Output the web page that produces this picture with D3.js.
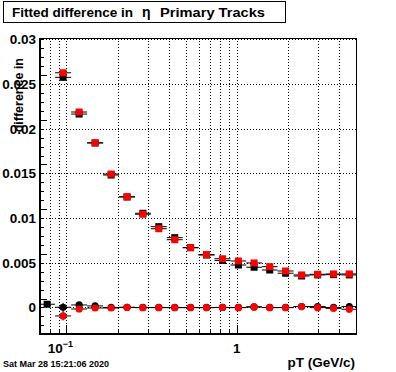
<!DOCTYPE html>
<html>
<head>
<meta charset="utf-8">
<script src="https://cdn.jsdelivr.net/npm/d3@7"></script>
<style>
  body { margin: 0; background: #fff; }
  text { font-family: "Liberation Sans", Arial, Helvetica, sans-serif; font-weight: bold; }
</style>
</head>
<body>
<script>
// pT bin edges (GeV/c)
var binEdges = [0.0692, 0.0858, 0.1066, 0.1323, 0.1642, 0.2039, 0.2525, 0.3126, 0.388, 0.4813,
                0.5957, 0.7396, 0.918, 1.136, 1.402, 1.734, 2.153, 2.673, 3.318, 4.108, 5.08];

// squares: fitted width, circles: fitted mean (black / red)
var blackSq = [0.00036, 0.02575, 0.02164, 0.0184, 0.01482, 0.01236, 0.01054, 0.00904, 0.00781, 0.00669,
               0.00587, 0.00526, 0.00475, 0.0045, 0.00419, 0.00383, 0.00352, 0.00364, 0.00367, 0.00364];
var redSq   = [null, 0.02626, 0.02187, 0.01843, 0.01493, 0.01239, 0.01043, 0.00881, 0.00758, 0.00669,
               0.00591, 0.00545, 0.0052, 0.00498, 0.00456, 0.00408, 0.00364, 0.00371, 0.00375, 0.00375];
var blackCirc = [null, 0.00002, 0.00028, 0.00017, 0.0, 0.00002, 0.0, 0.0, 0.0, 0.0,
                 0.0, 0.0, 0.0, 0.00006, 0.0, 0.0, 0.0001, 0.0001, 0.0, 0.0001];
var redCirc   = [null, -0.00095, -0.00017, -0.00006, -0.00006, 0.0, -0.00002, -0.00002, -0.00002, -0.00002,
                 -0.00002, 0.0, -0.00002, 0.00006, -0.00002, -0.00002, 0.0001, -0.00002, -0.0001, -0.0002];

var blackSqErr = [0.0002, 0.0004, 0.0003, 0.0002, 0.0002, 0.00015, 0.00015, 0.0001, 0.0001, 0.0001,
                  0.0001, 0.0001, 0.0001, 0.0001, 0.0001, 0.0001, 0.0001, 0.0001, 0.0001, 0.0001];
var redSqErr   = [0, 0.0003, 0.0002, 0.00015, 0.00015, 0.0001, 0.0001, 0.0001, 0.0001, 0.0001,
                  0.0001, 0.0001, 0.0001, 0.0001, 0.0001, 0.0001, 0.0001, 0.0001, 0.0001, 0.0001];
var blackCircErr = [0, 0.0005, 0.0002, 0.00015, 0.0001, 0.0001, 0.0001, 0.0001, 0.0001, 0.0001,
                    0.0001, 0.0001, 0.0001, 0.0001, 0.0001, 0.0001, 0.0001, 0.0001, 0.0001, 0.0001];
var redCircErr   = [0, 0.0005, 0.0002, 0.00015, 0.0001, 0.0001, 0.0001, 0.0001, 0.0001, 0.0001,
                    0.0001, 0.0001, 0.0001, 0.0001, 0.0001, 0.0001, 0.0001, 0.0001, 0.0001, 0.0001];

var yTicks = [0, 0.005, 0.01, 0.015, 0.02, 0.025, 0.03];
var yTickLabels = ["0", "0.005", "0.01", "0.015", "0.02", "0.025", "0.03"];

var titleLeft = "Fitted difference in", titleEta = "\u03b7", titleRight = "Primary Tracks";
var xTitle = "pT (GeV/c)", yTitle = "difference in";
var dateStamp = "Sat Mar 28 15:21:06 2020";

// frame
var fx0 = 40, fx1 = 356, fy0 = 38, fy1 = 334;

var svg = d3.select('body').append('svg')
  .attr('width', 396).attr('height', 372)
  .attr('xmlns', 'http://www.w3.org/2000/svg');

var x = d3.scaleLog().domain([0.07, 5]).range([fx0, fx1]);
var y = d3.scaleLinear().domain([-0.00297, 0.03015]).range([fy1, fy0]);

var px = function(v) { return Math.round(v) + 0.5; };

// grid
var xGrid = x.ticks().filter(function(t) { return t > 0.0701 && t < 4.99; });
svg.append('g').selectAll('line').data(xGrid).enter().append('line')
  .attr('x1', function(d) { return px(x(d)); }).attr('x2', function(d) { return px(x(d)); })
  .attr('y1', fy0).attr('y2', fy1)
  .attr('stroke', '#000').attr('stroke-dasharray', '1,2').attr('shape-rendering', 'crispEdges');
svg.append('g').selectAll('line').data(yTicks).enter().append('line')
  .attr('y1', function(d) { return px(y(d)); }).attr('y2', function(d) { return px(y(d)); })
  .attr('x1', fx0).attr('x2', fx1)
  .attr('stroke', '#000').attr('stroke-dasharray', '1,2').attr('shape-rendering', 'crispEdges');

// frame
svg.append('rect').attr('x', fx0 + 0.5).attr('y', fy0 + 0.5)
  .attr('width', fx1 - fx0).attr('height', fy1 - fy0)
  .attr('fill', 'none').attr('stroke', '#000').attr('shape-rendering', 'crispEdges');
svg.append('path').attr('d', `M${fx0},${fy0} V${fy1} H${fx1}`)
  .attr('fill', 'none').attr('stroke', '#000').attr('stroke-width', 2);

// y ticks
var yMinor = d3.range(-2, 31).map(function(i) { return i * 0.001; });
svg.append('g').selectAll('line').data(yMinor).enter().append('line')
  .attr('x1', fx0).attr('x2', function(d, i) { return fx0 + ((i + 2) % 5 == 0 ? 7 : 4); })
  .attr('y1', function(d) { return px(y(d)); }).attr('y2', function(d) { return px(y(d)); })
  .attr('stroke', '#000').attr('shape-rendering', 'crispEdges');
svg.append('g').selectAll('text').data(yTicks).enter().append('text')
  .attr('x', 36).attr('y', function(d) { return y(d) + 5; })
  .attr('text-anchor', 'end').attr('font-size', 13.5)
  .text(function(d, i) { return yTickLabels[i]; });

// x ticks
svg.append('g').selectAll('line').data(xGrid).enter().append('line')
  .attr('x1', function(d) { return px(x(d)); }).attr('x2', function(d) { return px(x(d)); })
  .attr('y1', fy1).attr('y2', function(d) { return fy1 - ((d == 0.1 || d == 1) ? 9 : 5); })
  .attr('stroke', '#000').attr('shape-rendering', 'crispEdges');
var t01 = svg.append('text').attr('x', x(0.1) - 6).attr('y', 353)
  .attr('text-anchor', 'middle').attr('font-size', 13.5);
t01.append('tspan').text('10');
t01.append('tspan').attr('dy', -6).attr('font-size', 9).text('\u22121');
svg.append('text').attr('x', x(1)).attr('y', 353)
  .attr('text-anchor', 'middle').attr('font-size', 13.5).text('1');

// axis titles
svg.append('text').attr('x', 355).attr('y', 367).attr('text-anchor', 'end')
  .attr('font-size', 13.5).text(xTitle);
svg.append('text').attr('transform', 'translate(23,58) rotate(-90)')
  .attr('text-anchor', 'end').attr('font-size', 12.5).text(yTitle);

// title box
svg.append('rect').attr('x', 3.5).attr('y', 1.5).attr('width', 282).attr('height', 21)
  .attr('fill', '#fff').attr('stroke', '#000');
svg.append('text').attr('x', 12).attr('y', 16.5).attr('font-size', 13.5)
  .attr('textLength', 121).attr('lengthAdjust', 'spacingAndGlyphs').text(titleLeft);
svg.append('text').attr('x', 142).attr('y', 16.5).attr('font-size', 14)
  .attr('font-weight', 'normal').attr('font-family', 'Liberation Serif, serif').text(titleEta);
svg.append('text').attr('x', 160).attr('y', 16.5).attr('font-size', 13.5)
  .attr('textLength', 105).attr('lengthAdjust', 'spacingAndGlyphs').text(titleRight);

// date stamp
svg.append('text').attr('x', 3).attr('y', 367).attr('font-size', 9).text(dateStamp);

// data series
var plot = svg.append('g');
plot.append('clipPath').attr('id', 'frameClip').append('rect')
  .attr('x', fx0).attr('y', fy0).attr('width', fx1 - fx0).attr('height', fy1 - fy0);

function drawSeries(vals, errs, color, shape) {
  var pts = vals.map(function(v, i) {
    return { lo: binEdges[i], hi: binEdges[i + 1], c: Math.sqrt(binEdges[i] * binEdges[i + 1]), v: v, e: errs[i] };
  }).filter(function(d) { return d.v !== null; });
  var g = plot.append('g').attr('clip-path', 'url(#frameClip)');
  // horizontal error bars span the bin
  g.selectAll('.hbar').data(pts).enter().append('line')
    .attr('x1', function(d) { return x(d.lo); }).attr('x2', function(d) { return x(d.hi); })
    .attr('y1', function(d) { return y(d.v); }).attr('y2', function(d) { return y(d.v); })
    .attr('stroke', '#000').attr('stroke-width', 1);
  g.selectAll('.vbar').data(pts).enter().append('line')
    .attr('x1', function(d) { return x(d.c); }).attr('x2', function(d) { return x(d.c); })
    .attr('y1', function(d) { return y(d.v - d.e); }).attr('y2', function(d) { return y(d.v + d.e); })
    .attr('stroke', '#000').attr('stroke-width', 1);
  if (shape == 'square') {
    g.selectAll('.mk').data(pts).enter().append('rect')
      .attr('x', function(d) { return x(d.c) - 3.5; }).attr('y', function(d) { return y(d.v) - 3.5; })
      .attr('width', 7).attr('height', 7).attr('fill', color);
  } else {
    g.selectAll('.mk').data(pts).enter().append('circle')
      .attr('cx', function(d) { return x(d.c); }).attr('cy', function(d) { return y(d.v); })
      .attr('r', 3.6).attr('fill', color);
  }
}

drawSeries(blackSq, blackSqErr, '#000', 'square');
drawSeries(blackCirc, blackCircErr, '#000', 'circle');
drawSeries(redSq, redSqErr, '#ff0000', 'square');
drawSeries(redCirc, redCircErr, '#ff0000', 'circle');
</script>
</body>
</html>
